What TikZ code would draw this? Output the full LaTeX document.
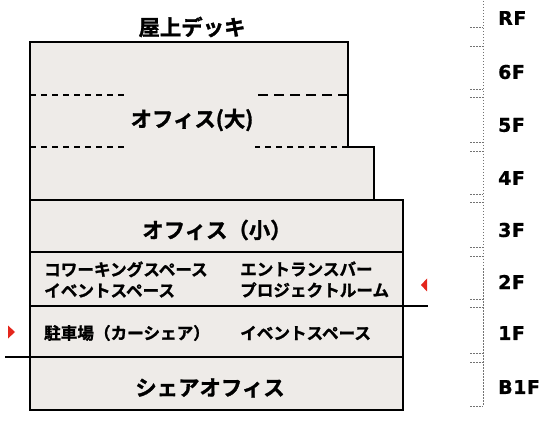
\documentclass[tikz,border=0pt]{standalone}
\usepackage{fontspec}
\newfontfamily\cjk{Noto Sans CJK JP}[BoldFont={Noto Sans CJK JP Bold}, BoldFeatures={FakeBold=1.3}]
\newfontfamily\floorfont{DejaVu Sans}[LetterSpace=3, BoldFeatures={FakeBold=0.8}]
\usepackage{tikz}
\usetikzlibrary{positioning, calc}

\definecolor{wallfill}{RGB}{238,235,232}
\definecolor{entryred}{RGB}{228,38,28}

\begin{document}
\begin{tikzpicture}[x=1pt, y=-1pt,
    % Styles
    wall/.style={draw=black, line width=1.8pt, fill=wallfill},
    ground/.style={draw=black, line width=2pt},
    level cut/.style={draw=black, line width=1.2pt, dash pattern=on 6pt off 5pt},
    title label/.style={font=\cjk\bfseries\fontsize{21.4}{24}\selectfont, inner sep=0pt},
    room label/.style={font=\cjk\bfseries\fontsize{16.6}{21}\selectfont, inner sep=0pt, align=left, anchor=west},
    floor label/.style={font=\floorfont\bfseries\fontsize{19}{20}\selectfont, inner sep=0pt, anchor=west},
    floor bracket/.style={draw=black!55, line width=1pt, dash pattern=on 1.5pt off 1.5pt},
    entry mark/.style={fill=entryred, draw=none},
]
    \useasboundingbox (0,0) rectangle (551,427);

    % Upper block (4F-6F)
    \draw[wall] (30,42) -- (348,42) -- (348,147) -- (374,147) -- (374,200) -- (30,200) -- cycle;
    \coordinate (cut6L) at (30,95);
    \coordinate (cut6R) at (348,95);
    \coordinate (cut5L) at (30,147);
    \coordinate (cut5R) at (348,147);
    \draw[level cut] (cut6L) -- ++(97,0);
    \draw[level cut, dash pattern=on 10pt off 6pt] (cut6R) -- ++(-93,0);
    \draw[level cut] (cut5L) -- ++(97,0);
    \draw[level cut] (cut5R) -- ++(-93,0);

    % Lower floors
    \draw[wall] (30,200) rectangle (403,252);
    \draw[wall] (30,252) rectangle (403,306);
    \draw[wall] (30,306) rectangle (403,357);
    \draw[wall] (30,357) rectangle (403,410);

    % Ground lines
    \coordinate (ground2L) at (30,306);
    \coordinate (ground2R) at (428,306);
    \coordinate (ground1L) at (5,357);
    \coordinate (ground1R) at (403,357);
    \draw[ground] (ground2L) -- (ground2R);
    \draw[ground] (ground1L) -- (ground1R);

    % Entrance marks
    \fill[entry mark] (421,285) -- (427,278.5) -- (427,291.5) -- cycle;
    \fill[entry mark] (15,332) -- (8,325.5) -- (8,338.5) -- cycle;

    % Labels in the building
    \node[title label] (deck) at (192,27) {屋上デッキ};
    \node[title label] (office big) at (192,120) {オフィス(大)};
    \node[title label] (office small) at (217,230) {オフィス（小）};
    \node[title label] (share office) at (210,388) {シェアオフィス};
    \node[room label] (cowork) at (44,279.5) {コワーキングスペース\\イベントスペース};
    \node[room label] (entrance) at (240,279.5) {エントランスバー\\プロジェクトルーム};
    \node[room label] (parking) at (44,333) {駐車場（カーシェア）};
    \node[room label] (event) at (240,333) {イベントスペース};

    % Floor scale
    \coordinate (scale top) at (483,-2);
    \coordinate (scale bottom) at (483,406);
    \draw[floor bracket] (scale top) -- (scale bottom);
    \foreach \y in {28,47,90,98,143,152,195,203,248,257,300,308,353,362,406}
        \draw[floor bracket] (470,\y) -- (483,\y);
    \foreach \fl/\ly in {RF/18, 6F/72, 5F/125, 4F/178, 3F/230, 2F/282, 1F/333, B1F/387}
        \node[floor label] (floor \fl) at (498,\ly) {\fl};
\end{tikzpicture}
\end{document}
